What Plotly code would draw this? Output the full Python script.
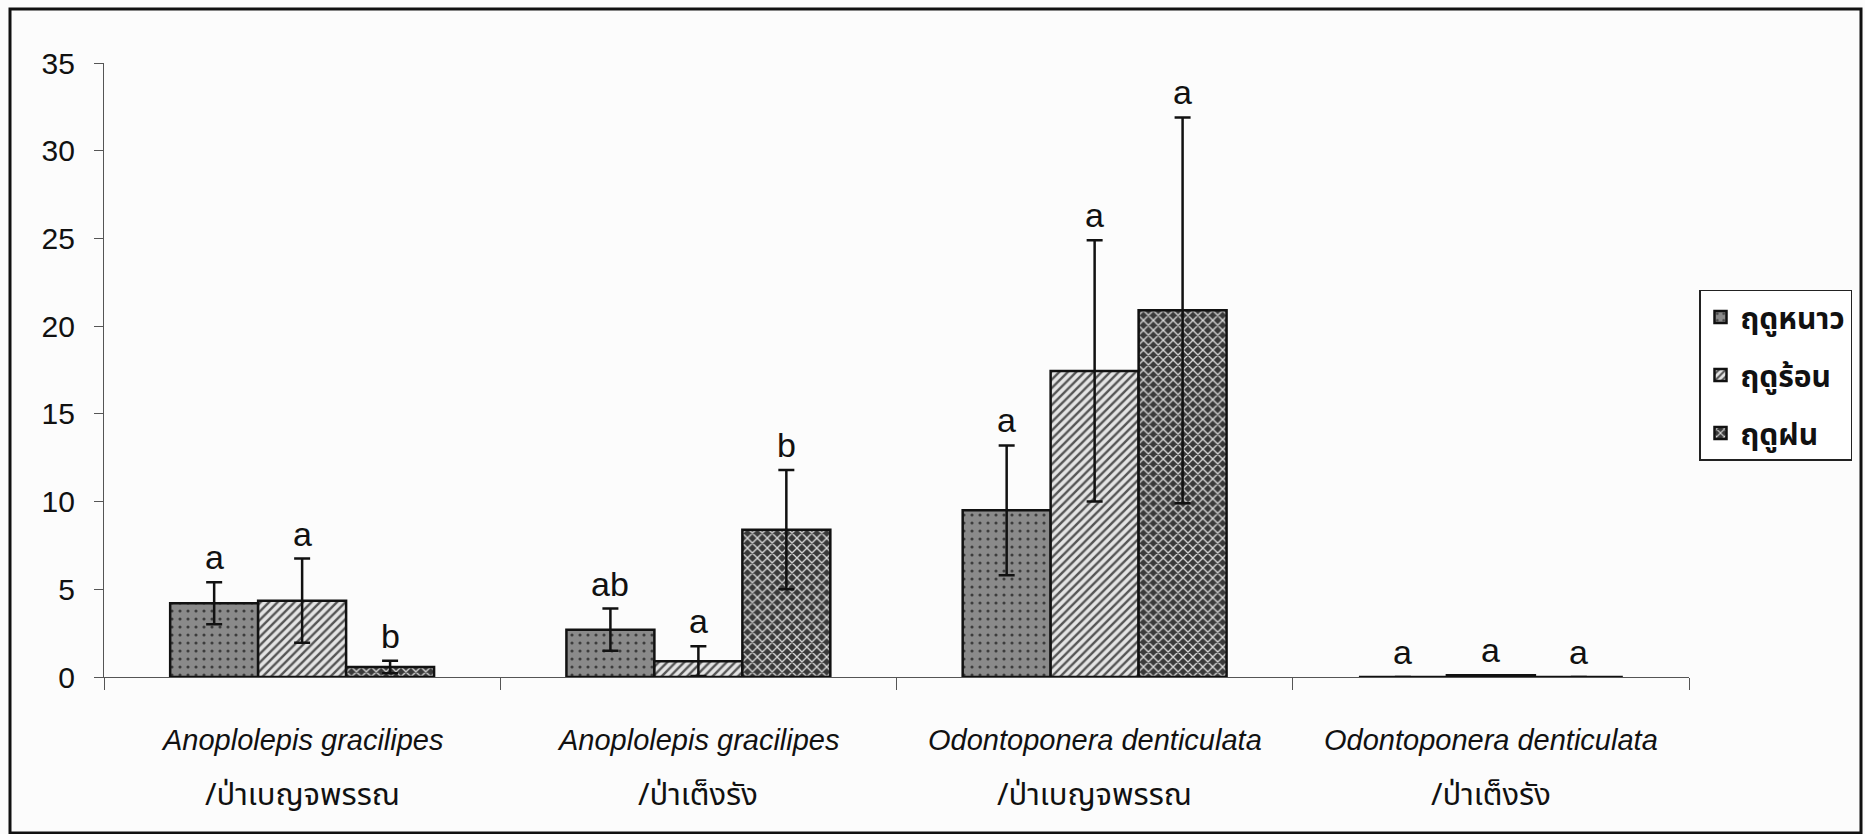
import plotly.graph_objects as go

# Species / forest type groups on the x axis
species = ["Anoplolepis gracilipes", "Anoplolepis gracilipes",
           "Odontoponera denticulata", "Odontoponera denticulata"]
forest_types = ["/ป่าเบญจพรรณ", "/ป่าเต็งรัง", "/ป่าเบญจพรรณ", "/ป่าเต็งรัง"]

# Seasons (legend names)
seasons = ["ฤดูหนาว", "ฤดูร้อน", "ฤดูฝน"]

# Mean abundance and standard error for each season
winter_mean = [4.2, 2.7, 9.5, 0.0]
winter_se = [1.2, 1.2, 3.7, 0.0]
summer_mean = [4.35, 0.9, 17.45, 0.1]
summer_se = [2.4, 0.85, 7.45, 0.0]
rainy_mean = [0.57, 8.4, 20.9, 0.0]
rainy_se = [0.36, 3.4, 11.0, 0.0]

# Significance letters above each bar
winter_letters = ["a", "ab", "a", "a"]
summer_letters = ["a", "a", "a", "a"]
rainy_letters = ["b", "b", "a", "a"]

y_ticks = [0, 5, 10, 15, 20, 25, 30, 35]

means = [winter_mean, summer_mean, rainy_mean]
errors = [winter_se, summer_se, rainy_se]
letters = [winter_letters, summer_letters, rainy_letters]

LATIN = "Liberation Sans, Arial, Helvetica, sans-serif"
THAI = "Noto Sans Thai, Tahoma, Loma, Garuda, Liberation Sans, sans-serif"

patterns = [
    dict(shape=".", bgcolor="#8a8a8a", fgcolor="#3c3c3c", size=8, solidity=0.12, fillmode="replace"),
    dict(shape="/", bgcolor="#e4e4e4", fgcolor="#555555", size=6, solidity=0.4, fillmode="replace"),
    dict(shape="x", bgcolor="#3a3a3a", fgcolor="#d8d8d8", size=7, solidity=0.35, fillmode="replace"),
]

BARGAP = 0.334
n_series = len(seasons)
bar_w = (1 - BARGAP) / n_series
xs = list(range(len(species)))

fig = go.Figure()
for j, name in enumerate(seasons):
    fig.add_trace(go.Bar(
        x=xs,
        y=means[j],
        name=f"<b>{name}</b>",
        legendgroup=f"season{j}",
        marker=dict(color=patterns[j]["bgcolor"], pattern=patterns[j],
                    line=dict(color="#111111", width=2.5)),
        error_y=dict(type="data", array=errors[j], visible=True,
                     color="#111111", thickness=2.5, width=8),
        hoverinfo="skip",
    ))

annotations = []
# letters above the error bars
for j in range(n_series):
    for i in xs:
        annotations.append(dict(
            x=i + (j - (n_series - 1) / 2) * bar_w,
            y=means[j][i] + errors[j][i],
            xref="x", yref="y", text=letters[j][i], showarrow=False,
            yanchor="bottom", yshift=4,
            font=dict(family=LATIN, size=34, color="#111111"),
        ))

# two-line group labels under the x axis
for i in xs:
    annotations.append(dict(
        x=i, y=0, xref="x", yref="paper", text=f"<i>{species[i]}</i>",
        showarrow=False, yanchor="middle", yshift=-63,
        font=dict(family=LATIN, size=29, color="#111111"),
    ))
    annotations.append(dict(
        x=i, y=0, xref="x", yref="paper", text=forest_types[i],
        showarrow=False, yanchor="middle", yshift=-118,
        font=dict(family=THAI, size=31, color="#111111"),
    ))

L, R, T, B = 104, 176, 63, 157
W, H = 1865, 834
pw, ph = W - L - R, H - T - B

fig.update_layout(
    width=W, height=H,
    margin=dict(l=L, r=R, t=T, b=B),
    paper_bgcolor="#fcfcfc",
    plot_bgcolor="#fcfcfc",
    barmode="group",
    bargap=BARGAP,
    bargroupgap=0,
    showlegend=True,
    legend=dict(
        x=(1699 - L) / pw, xanchor="left",
        y=(H - B - 375) / ph, yanchor="middle",
        bgcolor="#ffffff", bordercolor="#222222", borderwidth=1.5,
        font=dict(family=THAI, size=30, color="#111111"),
        tracegroupgap=16,
    ),
    annotations=annotations,
    shapes=[dict(
        type="rect", xref="paper", yref="paper",
        x0=(10 - L) / pw, x1=(1861 - L) / pw,
        y0=-(833 - (H - B)) / ph, y1=((H - B) - 9) / ph,
        line=dict(color="#111111", width=3), layer="below",
    )],
)

fig.update_xaxes(
    range=[-0.5, len(species) - 0.5],
    tickvals=[i - 0.5 for i in range(len(species) + 1)],
    showticklabels=False,
    ticks="outside", ticklen=12, tickwidth=1.2, tickcolor="#555555",
    showline=True, linecolor="#555555", linewidth=1.2,
    showgrid=False, zeroline=False,
)
fig.update_yaxes(
    range=[0, 35],
    tickvals=y_ticks,
    ticks="outside", ticklen=9, tickwidth=1.2, tickcolor="#555555",
    showline=True, linecolor="#555555", linewidth=1.2,
    showgrid=False, zeroline=False,
    tickfont=dict(family=LATIN, size=30, color="#111111"),
    ticklabelstandoff=13,
)

fig.write_html("out.html")
